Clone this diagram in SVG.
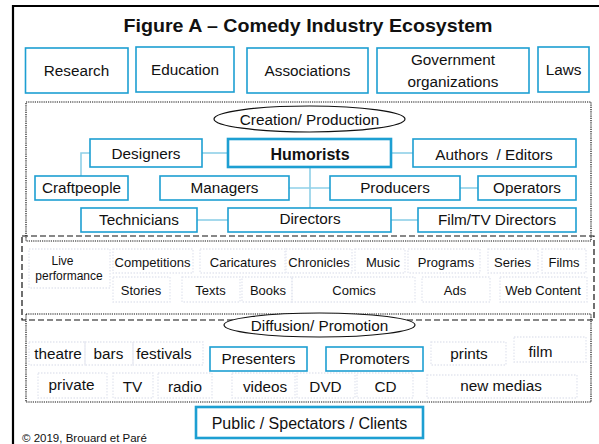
<svg xmlns="http://www.w3.org/2000/svg" width="599" height="444" viewBox="0 0 599 444">
<style>
text{font-family:"Liberation Sans",Arial,sans-serif;fill:#111;text-anchor:middle}
.b{fill:#fff;stroke:#1d9fd2;stroke-width:1.6}
.bt{fill:#fff;stroke:#1d9fd2;stroke-width:2.6}
.t{font-size:15.3px}
.p{font-size:13px}
.d{font-size:15.3px}
.fb{fill:none;stroke:#e4e6f0;stroke-width:1.3;stroke-dasharray:1.5 1.5}
.dot{fill:none;stroke:#111;stroke-width:1.2;stroke-dasharray:1.2 1}
.dash{fill:none;stroke:#111;stroke-width:1.2;stroke-dasharray:6 3}
.el{fill:#fff;stroke:#111;stroke-width:1.2}
.c{fill:none;stroke:#8fd0e8;stroke-width:1.6}
</style>
<rect width="599" height="444" fill="#fff"/>
<path d="M13,445 V6 H600" fill="none" stroke="#000" stroke-width="2.2"/>
<text x="308" y="32" style="font-size:19px;font-weight:bold" textLength="369" lengthAdjust="spacingAndGlyphs">Figure A – Comedy Industry Ecosystem</text>

<g id="research"><rect class="b" x="25.5" y="48" width="102.5" height="45"/><text class="t" x="76.5" y="76">Research</text></g>
<g id="education"><rect class="b" x="136" y="47" width="98" height="45"/><text class="t" x="185" y="74.5">Education</text></g>
<g id="associations"><rect class="b" x="247" y="48" width="121" height="45"/><text class="t" x="307.5" y="76">Associations</text></g>
<g id="government"><rect class="b" x="377" y="48" width="152" height="45"/><text class="t" x="453" y="64.5">Government</text><text class="t" x="453" y="87">organizations</text></g>
<g id="laws"><rect class="b" x="538" y="47" width="51" height="45"/><text class="t" x="563.5" y="75">Laws</text></g>

<rect class="dot" x="26" y="102" width="565" height="139"/>
<rect class="dash" x="22" y="236" width="572" height="84"/>
<rect class="dot" x="26" y="314" width="565" height="88"/>

<g id="connectors">
<path class="c" d="M202,153 H228"/>
<path class="c" d="M90,153 H81 V176"/>
<path class="c" d="M391,153 H413"/>
<path class="c" d="M310,167 V208"/>
<path class="c" d="M289,188 H330"/>
<path class="c" d="M460,188 H478"/>
<path class="c" d="M197,220 H228"/>
<path class="c" d="M391,220 H418"/>
</g>

<g id="creation"><ellipse class="el" cx="309.5" cy="119" rx="95.5" ry="13"/><text class="t" x="309.5" y="124.5">Creation/ Production</text></g>
<g id="humorists"><rect class="bt" x="228" y="139" width="163" height="28"/><text x="310" y="159.5" style="font-size:16px;font-weight:bold">Humorists</text></g>
<g id="designers"><rect class="b" x="90" y="139" width="112" height="28"/><text class="t" x="146" y="159">Designers</text></g>
<g id="authors"><rect class="b" x="413" y="139" width="163" height="28"/><text class="t" x="494" y="159.5" xml:space="preserve">Authors  / Editors</text></g>
<g id="craftpeople"><rect class="b" x="35" y="176" width="93" height="24"/><text class="t" x="81.5" y="193">Craftpeople</text></g>
<g id="managers"><rect class="b" x="160" y="176" width="129" height="24"/><text class="t" x="224.5" y="192.5">Managers</text></g>
<g id="producers"><rect class="b" x="330" y="176" width="130" height="24"/><text class="t" x="395" y="193">Producers</text></g>
<g id="operators"><rect class="b" x="478" y="176" width="98" height="24"/><text class="t" x="527" y="193">Operators</text></g>
<g id="technicians"><rect class="b" x="81" y="208" width="116" height="24"/><text class="t" x="139" y="225">Technicians</text></g>
<g id="directors"><rect class="b" x="228" y="208" width="163" height="24"/><text class="t" x="310" y="224">Directors</text></g>
<g id="filmtv"><rect class="b" x="418" y="208" width="158" height="24"/><text class="t" x="497" y="225">Film/TV Directors</text></g>

<g id="products">
<rect class="fb" x="29" y="249" width="81" height="39"/>
<rect class="fb" x="113" y="249" width="80" height="24"/>
<rect class="fb" x="200" y="249" width="85" height="24"/>
<rect class="fb" x="286" y="249" width="66" height="24"/>
<rect class="fb" x="355" y="249" width="50" height="24"/>
<rect class="fb" x="408" y="249" width="72" height="24"/>
<rect class="fb" x="488" y="249" width="50" height="24"/>
<rect class="fb" x="542" y="249" width="44" height="24"/>
<rect class="fb" x="113" y="277" width="57" height="25"/>
<rect class="fb" x="182" y="277" width="58" height="25"/>
<rect class="fb" x="242" y="277" width="50" height="25"/>
<rect class="fb" x="292" y="277" width="123" height="25"/>
<rect class="fb" x="422" y="277" width="68" height="25"/>
<rect class="fb" x="500" y="277" width="87" height="25"/>
<text x="62.5" y="265" style="font-size:12px">Live</text>
<text x="69" y="280" style="font-size:12px">performance</text>
<text class="p" x="152.5" y="266.5">Competitions</text>
<text class="p" x="243" y="266.5">Caricatures</text>
<text class="p" x="319" y="266.5">Chronicles</text>
<text class="p" x="383" y="266.5">Music</text>
<text class="p" x="446" y="266.5">Programs</text>
<text class="p" x="512.5" y="266.5">Series</text>
<text class="p" x="564" y="266.5">Films</text>
<text class="p" x="141" y="295">Stories</text>
<text class="p" x="210.5" y="295">Texts</text>
<text class="p" x="268" y="295">Books</text>
<text class="p" x="354" y="295">Comics</text>
<text class="p" x="455" y="295">Ads</text>
<text class="p" x="543" y="295">Web Content</text>
</g>

<g id="diffusion"><ellipse class="el" cx="319.5" cy="325" rx="95.5" ry="12"/><text class="t" x="319.5" y="330.5">Diffusion/ Promotion</text></g>

<g id="channels">
<rect class="fb" x="29" y="342" width="56" height="23"/>
<rect class="fb" x="85" y="342" width="48" height="23"/>
<rect class="fb" x="133" y="342" width="70" height="23"/>
<rect class="fb" x="431" y="342" width="75" height="23"/>
<rect class="fb" x="514" y="337" width="72" height="25"/>
<rect class="fb" x="38" y="373" width="69" height="25"/>
<rect class="fb" x="113" y="373" width="40" height="25"/>
<rect class="fb" x="158" y="373" width="54" height="25"/>
<rect class="fb" x="232" y="373" width="63" height="25"/>
<rect class="fb" x="297" y="373" width="58" height="25"/>
<rect class="fb" x="357" y="373" width="56" height="25"/>
<rect class="fb" x="427" y="375" width="150" height="23"/>
<text class="d" x="58" y="358.5">theatre</text>
<text class="d" x="108.5" y="358.5">bars</text>
<text class="d" x="164" y="358.5">festivals</text>
<text class="d" x="469" y="359">prints</text>
<text class="d" x="540.5" y="357">film</text>
<text class="d" x="71.5" y="390">private</text>
<text class="d" x="132.5" y="392">TV</text>
<text class="d" x="185" y="392">radio</text>
<text class="d" x="265" y="392">videos</text>
<text class="d" x="325.5" y="392">DVD</text>
<text class="d" x="385.5" y="392">CD</text>
<text class="d" x="501" y="391">new medias</text>
</g>
<g id="presenters"><rect class="b" x="210" y="347" width="97" height="24"/><text class="t" x="258.5" y="364">Presenters</text></g>
<g id="promoters"><rect class="b" x="326" y="347" width="97" height="24"/><text class="t" x="374.5" y="364">Promoters</text></g>

<g id="public"><rect class="bt" x="196" y="407" width="227" height="31"/><text x="309.5" y="429" style="font-size:16px">Public / Spectators / Clients</text></g>
<text x="22" y="441.5" style="font-size:11.5px;text-anchor:start">© 2019, Brouard et Paré</text>
</svg>
